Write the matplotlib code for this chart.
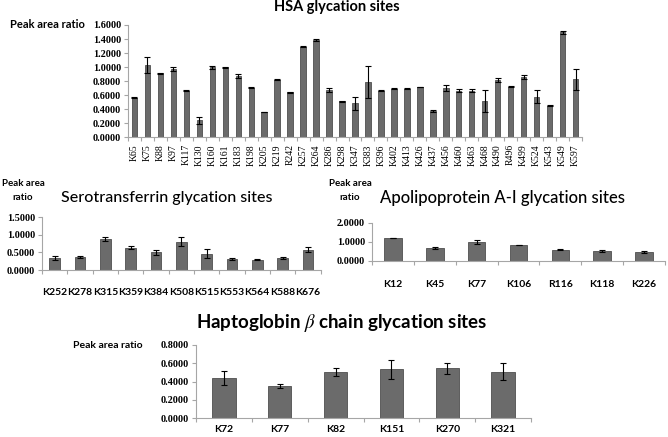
"""Glycation site peak area ratios for four plasma proteins."""

import matplotlib
matplotlib.use("Agg")
import matplotlib.pyplot as plt
import numpy as np
from matplotlib.ticker import FormatStrFormatter, FixedLocator

plt.rcParams["mathtext.fontset"] = "stix"

W, H = 668, 437

# HSA
hsa_sites = ["K65", "K75", "K88", "K97", "K117", "K130", "K160", "K161", "K183",
             "K198", "K205", "K219", "R242", "K257", "K264", "K286", "K298", "K347",
             "K383", "K396", "K402", "K413", "K426", "K437", "K456", "K460", "K463",
             "K468", "K490", "R496", "K499", "K524", "K543", "K549", "K597"]
hsa_vals = [0.565, 1.03, 0.91, 0.975, 0.665, 0.245, 0.995, 0.995, 0.875,
            0.705, 0.362, 0.822, 0.640, 1.293, 1.385, 0.675, 0.515, 0.485,
            0.785, 0.665, 0.692, 0.692, 0.715, 0.375, 0.700, 0.665, 0.665,
            0.515, 0.815, 0.720, 0.862, 0.580, 0.450, 1.495, 0.825]
hsa_err = [0.01, 0.12, 0.01, 0.03, 0.005, 0.05, 0.015, 0.01, 0.03,
           0.005, 0.005, 0.01, 0.01, 0.01, 0.01, 0.03, 0.005, 0.09,
           0.23, 0.005, 0.005, 0.005, 0.005, 0.02, 0.04, 0.02, 0.02,
           0.16, 0.03, 0.005, 0.03, 0.09, 0.005, 0.02, 0.15]

# Serotransferrin
tf_sites = ["K252", "K278", "K315", "K359", "K384", "K508", "K515", "K553",
            "K564", "K588", "K676"]
tf_vals = [0.34, 0.38, 0.88, 0.64, 0.50, 0.81, 0.46, 0.31, 0.29, 0.34, 0.58]
tf_err = [0.05, 0.03, 0.05, 0.03, 0.08, 0.14, 0.13, 0.03, 0.01, 0.04, 0.07]

# Apolipoprotein A-I
apo_sites = ["K12", "K45", "K77", "K106", "R116", "K118", "K226"]
apo_vals = [1.19, 0.66, 0.98, 0.83, 0.59, 0.525, 0.47]
apo_err = [0.02, 0.06, 0.09, 0.02, 0.03, 0.05, 0.04]

# Haptoglobin beta chain
hp_sites = ["K72", "K77", "K82", "K151", "K270", "K321"]
hp_vals = [0.44, 0.355, 0.507, 0.533, 0.544, 0.509]
hp_err = [0.08, 0.02, 0.04, 0.10, 0.06, 0.09]

BAR = "#6b6b6b"
EDGE = "#4f4f4f"
AXIS = "#a6a6a6"


def px_axes(fig, x0, x1, y_top, y_bot):
    return fig.add_axes([x0 / W, 1 - y_bot / H, (x1 - x0) / W, (y_bot - y_top) / H])


def bar_panel(ax, sites, vals, err, ymax, step, tick_font, rot=0, label_pad=4):
    x = np.arange(len(sites))
    ax.bar(x, vals, width=0.42, color=BAR, edgecolor=EDGE, linewidth=0.6,
           yerr=err, error_kw=dict(ecolor="black", elinewidth=0.8, capsize=2, capthick=0.8))
    ax.set_xlim(-0.5, len(sites) - 0.5)
    ax.set_ylim(0, ymax)
    ax.set_yticks(np.arange(0, ymax + step / 2, step))
    ax.yaxis.set_major_formatter(FormatStrFormatter("%.4f"))
    for s in ("top", "right"):
        ax.spines[s].set_visible(False)
    for s in ("left", "bottom"):
        ax.spines[s].set_color(AXIS)
        ax.spines[s].set_linewidth(0.8)
    ax.tick_params(axis="y", colors=AXIS, length=3, width=0.8, pad=2)
    for t in ax.get_yticklabels():
        t.set_color("black")
        t.set_fontfamily("Liberation Serif")
        t.set_fontweight("bold")
        t.set_fontsize(7.3)
    ax.set_xticks(x)
    ax.set_xticklabels(sites, rotation=rot, **tick_font)
    ax.tick_params(axis="x", length=0, pad=label_pad)
    ax.xaxis.set_minor_locator(FixedLocator(np.arange(-0.5, len(sites), 1.0)))
    ax.tick_params(axis="x", which="minor", length=3, width=0.8, colors=AXIS)


fig = plt.figure(figsize=(W / 100, H / 100), dpi=100)

# HSA panel
ax1 = px_axes(fig, 128, 582, 25, 137.3)
bar_panel(ax1, hsa_sites, hsa_vals, hsa_err, 1.6, 0.2,
          dict(fontfamily="Liberation Serif", fontsize=7), rot=90, label_pad=5)
fig.text(336.7 / W, 1 - 7 / H, "HSA glycation sites", ha="center", va="center",
         fontfamily="Lato", fontweight="bold", fontsize=10.5)
fig.text(10 / W, 1 - 25 / H, "Peak area ratio", ha="left", va="center",
         fontfamily="Lato", fontweight="bold", fontsize=8)

# Serotransferrin panel
ax2 = px_axes(fig, 42, 320.5, 217.3, 270)
bar_panel(ax2, tf_sites, tf_vals, tf_err, 1.5, 0.5,
          dict(fontfamily="Lato", fontweight="bold", fontsize=7.5), label_pad=13)
fig.text(166.7 / W, 1 - 198 / H, "Serotransferrin glycation sites", ha="center",
         va="center", fontfamily="Lato", fontweight="medium", fontsize=11.5)
fig.text(23 / W, 1 - 190.5 / H, "Peak area\nratio", ha="center", va="center",
         fontfamily="Lato", fontweight="bold", fontsize=7, linespacing=1.8)

# Apolipoprotein A-I panel
ax3 = px_axes(fig, 372, 665, 222.5, 261)
bar_panel(ax3, apo_sites, apo_vals, apo_err, 2.0, 1.0,
          dict(fontfamily="Lato", fontweight="bold", fontsize=7.5), label_pad=14)
fig.text(502.5 / W, 1 - 198 / H, "Apolipoprotein A-I glycation sites", ha="center",
         va="center", fontfamily="Lato", fontweight="medium", fontsize=12)
fig.text(350 / W, 1 - 190.5 / H, "Peak area\nratio", ha="center", va="center",
         fontfamily="Lato", fontweight="bold", fontsize=7, linespacing=1.8)

# Haptoglobin panel
ax4 = px_axes(fig, 196, 531, 345, 418.3)
bar_panel(ax4, hp_sites, hp_vals, hp_err, 0.8, 0.2,
          dict(fontfamily="Lato", fontweight="bold", fontsize=7.5), label_pad=5)
fig.text(341.7 / W, 1 - 323 / H, r"Haptoglobin $\beta$ chain glycation sites",
         ha="center", va="center", fontfamily="Lato", fontweight="bold", fontsize=13.5)
fig.text(143 / W, 1 - 345 / H, "Peak area ratio", ha="right", va="center",
         fontfamily="Lato", fontweight="bold", fontsize=7.5)

fig.savefig("out.png", dpi=100)
